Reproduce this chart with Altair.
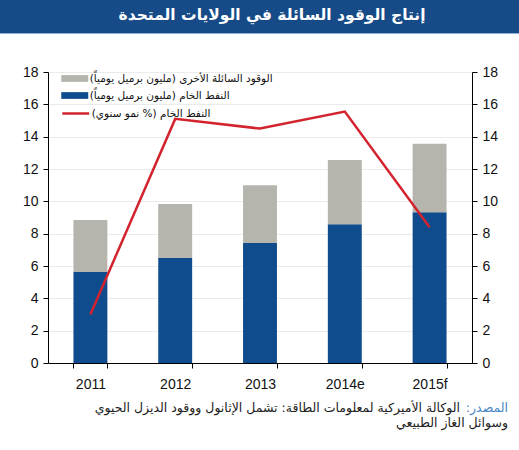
import altair as alt
import pandas as pd

years = ["2011", "2012", "2013", "2014e", "2015f"]
crude = [5.63, 6.50, 7.43, 8.59, 9.33]
other = [3.21, 3.33, 3.57, 3.96, 4.23]
growth = [3.0, 15.1, 14.5, 15.55, 8.4]

lab_other = "الوقود السائلة الأخرى (مليون برميل يومياً)"
lab_crude = "النفط الخام (مليون برميل يومياً)"
lab_growth = "النفط الخام (% نمو سنوي)"
title_txt = "إنتاج الوقود السائلة في الولايات المتحدة"
src_lbl = "المصدر:\u200f"
src_line1 = "الوكالة الأميركية لمعلومات الطاقة: تشمل الإثانول ووقود الديزل الحيوي"
src_line2 = "وسوائل الغاز الطبيعي"

W, H = 424, 291
AR_FONT = "DejaVu Sans"
NUM_FONT = "Liberation Sans"

bars_df = pd.DataFrame({
    "year": years * 2,
    "value": crude + other,
    "series": [lab_crude] * 5 + [lab_other] * 5,
    "ord": [0] * 5 + [1] * 5,
})
line_df = pd.DataFrame({"year": years, "growth": growth, "s": [lab_growth] * 5})

xscale = alt.Scale(domain=years, paddingInner=0.6, paddingOuter=0.3)
xaxis = alt.Axis(title=None, labelFont=NUM_FONT, labelFontSize=14, labelColor="#111",
                 labelAngle=0, domainColor="#000", tickColor="#000", tickSize=5,
                 tickBand="extent", labelPadding=9, grid=False, domainWidth=1)

bars = alt.Chart(bars_df).mark_bar().encode(
    x=alt.X("year:N", scale=xscale, axis=xaxis, sort=years),
    y=alt.Y("value:Q", stack="zero",
            scale=alt.Scale(domain=[0, 18], nice=False),
            axis=alt.Axis(title=None, values=list(range(0, 19, 2)), orient="left",
                          labelFont=NUM_FONT, labelFontSize=14, labelColor="#111",
                          domainColor="#000", tickColor="#000", tickSize=5,
                          labelPadding=5, grid=True, gridColor="#ebebeb")),
    color=alt.Color("series:N",
                    scale=alt.Scale(domain=[lab_other, lab_crude], range=["#b5b5ae", "#0f4c8d"]),
                    legend=alt.Legend(title=None, orient="none", legendX=19.75, legendY=-0.5,
                                      symbolType="M-2,-0.5H2V0.5H-2Z", symbolSize=182,
                                      symbolStrokeWidth=0, padding=0, rowPadding=4,
                                      labelOffset=8, labelFont=AR_FONT, labelFontSize=10.5,
                                      labelColor="#111", labelLimit=400)),
    order=alt.Order("ord:Q"),
)

line = alt.Chart(line_df).mark_line(strokeWidth=2.5).encode(
    x=alt.X("year:N", scale=xscale, sort=years),
    y=alt.Y("growth:Q", scale=alt.Scale(domain=[0, 18], nice=False),
            axis=alt.Axis(title=None, values=list(range(0, 19, 2)), orient="right",
                          labelFont=NUM_FONT, labelFontSize=14, labelColor="#111",
                          domainColor="#000", tickColor="#000", tickSize=5,
                          labelPadding=5, grid=False)),
    stroke=alt.Stroke("s:N", scale=alt.Scale(domain=[lab_growth], range=["#d2232e"]),
                      legend=alt.Legend(title=None, orient="none", legendX=19.75, legendY=33.5,
                                        symbolType="M-2,0H2", symbolSize=182,
                                        symbolStrokeWidth=2.5, padding=0,
                                        labelOffset=8, labelFont=AR_FONT, labelFontSize=10.5,
                                        labelColor="#111", labelLimit=400)),
)

banner_df = pd.DataFrame({"t": [title_txt]})
banner = alt.Chart(banner_df).mark_rect(color="#164b88").encode(
    x=alt.value(-48), x2=alt.value(W + 47), y=alt.value(-72), y2=alt.value(-39))
banner_line = alt.Chart(banner_df).mark_rule(color="#8fb0d4", strokeWidth=1).encode(
    x=alt.value(-48), x2=alt.value(W + 47), y=alt.value(-38.5))
banner_text = alt.Chart(banner_df).mark_text(
    font=AR_FONT, fontSize=15.5, fontWeight="bold", color="white", align="center",
    baseline="middle").encode(text="t:N", x=alt.value(224), y=alt.value(-57))

src_df = pd.DataFrame({"a": [src_lbl], "b": [src_line1], "c": [src_line2]})
src1 = alt.Chart(src_df).mark_text(font=AR_FONT, fontSize=12.5, color="#4a86c5", align="right",
                                   baseline="middle").encode(text="a:N", x=alt.value(460), y=alt.value(336))
src2 = alt.Chart(src_df).mark_text(font=AR_FONT, fontSize=12.5, color="#222", align="right",
                                   baseline="middle").encode(text="b:N", x=alt.value(412), y=alt.value(336))
src3 = alt.Chart(src_df).mark_text(font=AR_FONT, fontSize=12.5, color="#222", align="right",
                                   baseline="middle").encode(text="c:N", x=alt.value(460), y=alt.value(351))

chart = alt.layer(bars, line, banner, banner_line, banner_text, src1, src2, src3).resolve_scale(
    y="independent", color="independent", stroke="independent"
).properties(
    width=W, height=H,
    autosize=alt.AutoSizeParams(type="none"),
    padding={"left": 48, "top": 72, "right": 47, "bottom": 87},
).configure_view(stroke=None).configure(background="white")

chart.save("out.html", embed_options={"renderer": "svg", "actions": False})
